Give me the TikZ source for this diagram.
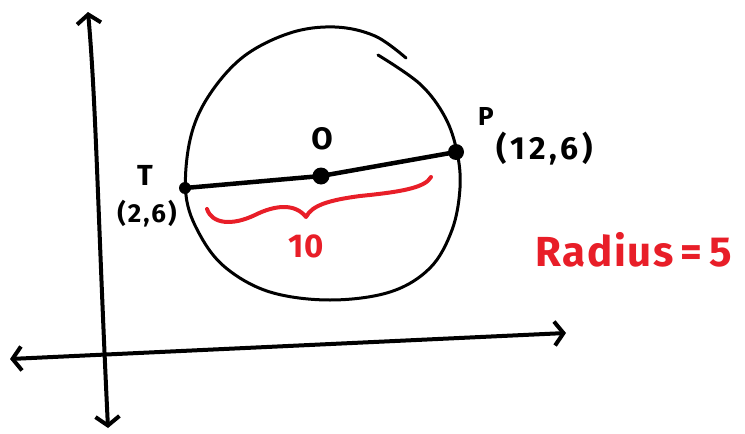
\documentclass[tikz,border=0pt]{standalone}
\usepackage{fontspec}
\setmainfont{Fira Sans}
\usetikzlibrary{arrows.meta}
\definecolor{pen}{RGB}{0,0,0}
\definecolor{redpen}{RGB}{232,30,40}
\tikzset{
  axis/.style={line width=4pt, line cap=round, line join=round, pen,
    {Straight Barb[length=9pt,width=24pt,line width=4pt]}-{Straight Barb[length=9pt,width=24pt,line width=4pt]}},
  rim/.style={line width=3pt, line cap=round, line join=round, pen},
  dot/.style={circle, fill=pen, inner sep=0pt},
  lbl/.style={text=pen, inner sep=0pt},
  redlbl/.style={text=redpen, inner sep=0pt},
}
\begin{document}
\begin{tikzpicture}[x=1pt,y=-1pt]
\useasboundingbox (0,0) rectangle (745,434);
% axes
\coordinate (ytop) at (88,12);
\coordinate (ybot) at (108,428);
\coordinate (xl) at (10,359);
\coordinate (xr) at (566,333);
\draw[axis] (ybot) .. controls (98,220) and (96,100) .. (ytop);
\draw[axis] (xl) -- (xr);
% circle (hand drawn)
\draw[rim] plot[smooth, tension=0.6] coordinates {
 (378,55) (420,84) (445,117) (457,152) (460,188) (452,230) (430,268) (390,292)
 (330,300) (270,292) (226,268) (200,235) (186,195) (190,140) (208,97)
 (243,57) (290,33) (335,27) (375,36) (406,58)};
% diameter
\node[dot, minimum size=12pt] (T) at (185,188) {};
\node[dot, minimum size=17pt] (O) at (321,176) {};
\node[dot, minimum size=16pt] (P) at (456,152) {};
\draw[line width=4.5pt, line cap=round] (T.center) -- (O.center) -- (P.center);
% labels
\node[lbl, font=\bfseries\fontsize{29}{29}\selectfont] (Tl) at (145,175) {T};
\node[lbl, font=\bfseries\fontsize{26}{26}\selectfont\addfontfeature{LetterSpace=8}] (Tc) at (147,214) {(2,6)};
\node[lbl, font=\bfseries\fontsize{31}{31}\selectfont] (Ol) at (322,139) {O};
\node[lbl, font=\bfseries\fontsize{26}{26}\selectfont] (Pl) at (486,116) {P};
\node[lbl, font=\bfseries\fontsize{32}{32}\selectfont\addfontfeature{LetterSpace=12}] (Pc) at (545,149) {(12,6)};
% red brace
\draw[redpen, line width=4pt, line cap=round, line join=round]
  (207,209) .. controls (212,224) and (232,226) .. (255,215)
  .. controls (275,205) and (295,203) .. (306,217)
  .. controls (312,205) and (330,200) .. (360,196)
  .. controls (400,192) and (425,188) .. (431,177);
\node[redlbl, font=\bfseries\fontsize{33}{33}\selectfont] (ten) at (306,246) {10};
\node[redlbl, font=\bfseries\fontsize{42}{42}\selectfont\addfontfeature{LetterSpace=4}] (rad) at (634,250) {Radius\,=\,5};
\end{tikzpicture}
\end{document}
